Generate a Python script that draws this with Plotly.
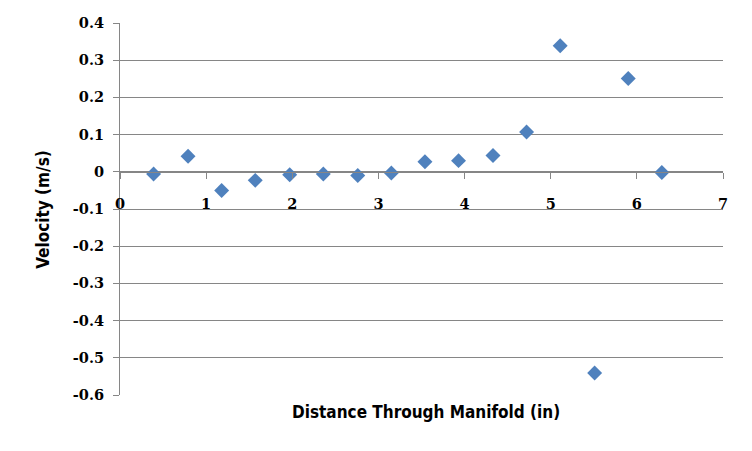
import plotly.graph_objects as go

distance_in = [0.39, 0.79, 1.18, 1.57, 1.97, 2.36, 2.76, 3.15, 3.54, 3.93, 4.33, 4.72, 5.11, 5.51, 5.90, 6.29]
velocity_ms = [-0.006, 0.042, -0.050, -0.023, -0.008, -0.006, -0.010, -0.003, 0.027, 0.030, 0.044, 0.107, 0.339, -0.541, 0.251, -0.002]

y_ticks = [0.4, 0.3, 0.2, 0.1, 0, -0.1, -0.2, -0.3, -0.4, -0.5, -0.6]
y_labels = ["0.4", "0.3", "0.2", "0.1", "0", "-0.1", "-0.2", "-0.3", "-0.4", "-0.5", "-0.6"]
x_ticks = [0, 1, 2, 3, 4, 5, 6, 7]
x_labels = ["0", "1", "2", "3", "4", "5", "6", "7"]

tick_font = dict(family="DejaVu Serif, serif", size=14.5, color="#000000", weight="bold")
title_font = dict(family="DejaVu Sans Condensed, DejaVu Sans, sans-serif", size=17, color="#000000", weight="bold")

fig = go.Figure()
fig.add_trace(go.Scatter(
    x=distance_in, y=velocity_ms, mode="markers",
    marker=dict(symbol="diamond", size=11.5, color="#4F81BD", line=dict(width=0)),
    showlegend=False,
))

fig.update_layout(
    width=752, height=451,
    margin=dict(l=120, r=29, t=23, b=56),
    paper_bgcolor="white", plot_bgcolor="white",
    xaxis=dict(
        range=[0, 7], tickvals=x_ticks, ticktext=x_labels,
        anchor="free", position=0.6,
        showline=True, linecolor="#868686", linewidth=1,
        ticks="outside", ticklen=6, tickcolor="#868686",
        showgrid=False, zeroline=False,
        tickfont=tick_font,
        ticklabelstandoff=13,
    ),
    yaxis=dict(
        range=[-0.6, 0.4], tickvals=y_ticks, ticktext=y_labels,
        showline=True, linecolor="#868686", linewidth=1,
        ticks="outside", ticklen=6, tickcolor="#868686",
        showgrid=True, gridcolor="#868686", gridwidth=1,
        zeroline=False,
        tickfont=tick_font,
        ticklabelstandoff=6,
    ),
    annotations=[
        dict(text="Distance Through Manifold (in)", xref="paper", yref="paper",
             x=0.508, y=-0.046, xanchor="center", yanchor="middle", showarrow=False, font=title_font),
        dict(text="Velocity (m/s)", xref="paper", yref="paper",
             x=-0.128, y=0.5, xanchor="center", yanchor="middle", textangle=-90,
             showarrow=False, font=title_font),
    ],
)

fig.write_html("out.html", config={"displayModeBar": False},
               post_script="document.body.style.margin='0';")
